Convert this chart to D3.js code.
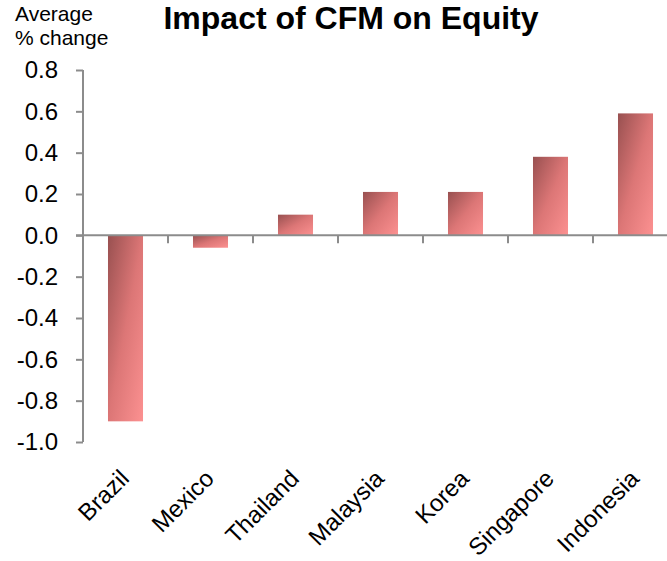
<!DOCTYPE html>
<head>
<style>
  body { margin: 0; font-family: Arial, "Liberation Sans", Helvetica; background: #fff; }
  .axis path, .axis line { stroke: #8c8c8c; stroke-width: 2px; }
  .axis text { fill: #000; }
</style>
</head>
<body>
<script src="https://d3js.org/d3.v7.min.js"></script>
<script>
var countries = ["Brazil", "Mexico", "Thailand", "Malaysia", "Korea", "Singapore", "Indonesia"];
var impact = [-0.9, -0.06, 0.1, 0.21, 0.21, 0.38, 0.59];
var yTicks = [0.8, 0.6, 0.4, 0.2, 0.0, -0.2, -0.4, -0.6, -0.8, -1.0];

var width = 667, height = 561;
var svg = d3.select("body").append("svg")
    .attr("width", width)
    .attr("height", height);

var x = d3.scaleBand()
    .domain(countries)
    .range([83, 678])
    .paddingInner(0.588)
    .paddingOuter(0.294);

var y = d3.scaleLinear()
    .domain([-1.0, 0.8])
    .range([442, 70]);

// gradient for bars
var grad = svg.append("defs").append("linearGradient")
    .attr("id", "barGrad")
    .attr("x1", "0%").attr("y1", "0%")
    .attr("x2", "100%").attr("y2", "100%");
grad.append("stop").attr("offset", "0%").attr("stop-color", "#985050");
grad.append("stop").attr("offset", "50%").attr("stop-color", "#dc7676");
grad.append("stop").attr("offset", "100%").attr("stop-color", "#fc9191");

// y axis
var yAxis = svg.append("g")
    .attr("class", "axis")
    .attr("transform", "translate(83,0)")
    .call(d3.axisLeft(y).tickValues(yTicks).tickSize(7).tickPadding(18)
        .tickFormat(d3.format(".1f")));
yAxis.select(".domain").attr("d", "M0," + y(0.8) + "V" + y(-1.0));
yAxis.selectAll("text")
    .style("font-size", "24px")
    .style("font-family", "Arial, 'Liberation Sans'")
    .text(function(d) { return d3.format(".1f")(d).replace("−", "-"); });

// bars
svg.append("g").selectAll("rect")
    .data(impact)
    .enter().append("rect")
    .attr("x", function(d, i) { return x(countries[i]); })
    .attr("y", function(d) { return y(Math.max(0, d)); })
    .attr("width", x.bandwidth())
    .attr("height", function(d) { return Math.abs(y(d) - y(0)); })
    .attr("fill", "url(#barGrad)");

// x axis at zero
var xAxis = svg.append("g")
    .attr("class", "axis")
    .attr("transform", "translate(0," + y(0) + ")");
xAxis.append("line")
    .attr("x1", 76).attr("x2", width)
    .attr("y1", 0).attr("y2", 0);
xAxis.selectAll(".tick")
    .data(countries)
    .enter().append("line")
    .attr("x1", function(d) { return x(d) - x.step() * x.paddingInner() / 2 + x.step(); })
    .attr("x2", function(d) { return x(d) - x.step() * x.paddingInner() / 2 + x.step(); })
    .attr("y1", 0).attr("y2", 8);

// category labels
svg.append("g").selectAll("text")
    .data(countries)
    .enter().append("text")
    .attr("transform", function(d) {
        return "translate(" + (x(d) + x.bandwidth() / 2 + 5) + ",480) rotate(-45)";
    })
    .attr("text-anchor", "end")
    .style("font-size", "24px")
    .text(function(d) { return d; });

// title and axis caption
svg.append("text")
    .attr("x", 351).attr("y", 29)
    .attr("text-anchor", "middle")
    .style("font-size", "32px")
    .style("font-weight", "bold")
    .text("Impact of CFM on Equity");

svg.append("text")
    .attr("x", 15).attr("y", 21)
    .style("font-size", "21px")
    .text("Average");
svg.append("text")
    .attr("x", 15).attr("y", 45)
    .style("font-size", "21px")
    .text("% change");
</script>
</body>
